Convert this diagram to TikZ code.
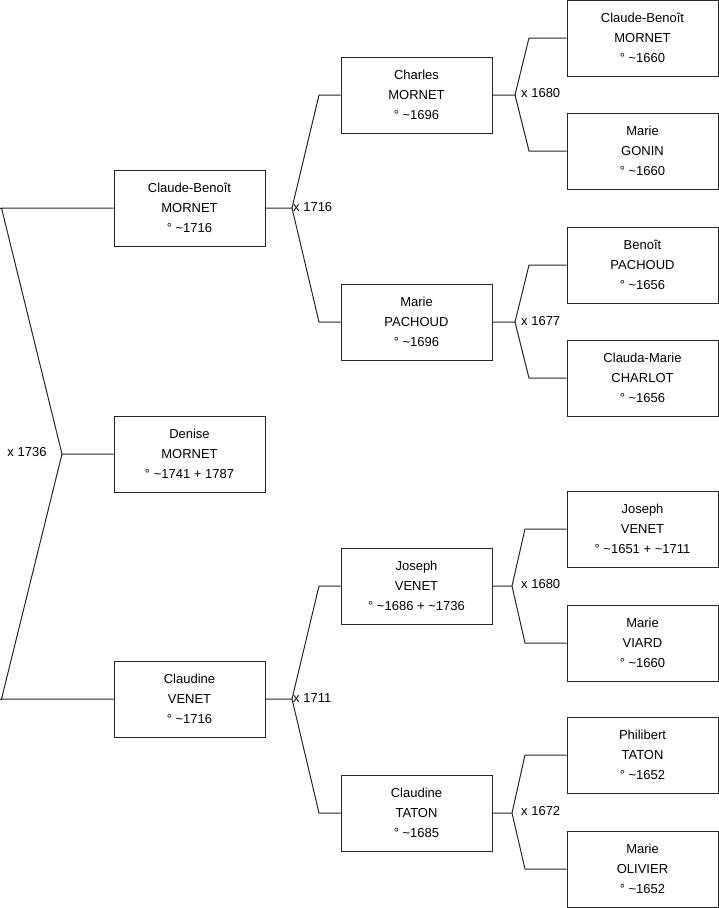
\documentclass[tikz,border=0pt]{standalone}
\usepackage{fontspec}
\setmainfont{Liberation Sans}
\newcommand{\tld}{\textasciitilde}
\begin{document}
\begin{tikzpicture}[x=1pt,y=-1pt,
  person/.style={draw=black!85, line width=1pt, minimum width=151pt, minimum height=76pt,
    align=center, inner sep=0pt, font=\fontsize{13}{20}\selectfont},
  link/.style={draw=black!85, line width=1pt},
  mar/.style={inner sep=0pt, font=\fontsize{13}{16}\selectfont, anchor=west}]
\useasboundingbox (0,0) rectangle (719,908);
% level 1
\node[person] (cb)  at (189.5,208) {Claude-Benoît\\MORNET\\° \tld1716};
\node[person] (den) at (189.5,454) {Denise\\MORNET\\° \tld1741 + 1787};
\node[person] (cl)  at (189.5,699) {Claudine\\VENET\\° \tld1716};
% level 2
\node[person] (ch)  at (416.5,95)  {Charles\\MORNET\\° \tld1696};
\node[person] (mp)  at (416.5,322) {Marie\\PACHOUD\\° \tld1696};
\node[person] (jv)  at (416.5,586) {Joseph\\VENET\\° \tld1686 + \tld1736};
\node[person] (ct)  at (416.5,813) {Claudine\\TATON\\° \tld1685};
% level 3
\node[person] (cbm) at (642.5,38)  {Claude-Benoît\\MORNET\\° \tld1660};
\node[person] (mg)  at (642.5,151) {Marie\\GONIN\\° \tld1660};
\node[person] (bp)  at (642.5,265) {Benoît\\PACHOUD\\° \tld1656};
\node[person] (cmc) at (642.5,378) {Clauda-Marie\\CHARLOT\\° \tld1656};
\node[person] (jv2) at (642.5,529) {Joseph\\VENET\\° \tld1651 + \tld1711};
\node[person] (mv)  at (642.5,643) {Marie\\VIARD\\° \tld1660};
\node[person] (pt)  at (642.5,755) {Philibert\\TATON\\° \tld1652};
\node[person] (mo)  at (642.5,869) {Marie\\OLIVIER\\° \tld1652};
% junctions
\coordinate (j0) at (62,454);   \coordinate (j0t) at (1.5,208); \coordinate (j0b) at (1.5,699);
\coordinate (j1) at (292,208);  \coordinate (j1t) at (319,95);  \coordinate (j1b) at (319,322);
\coordinate (j2) at (292,699);  \coordinate (j2t) at (319,586); \coordinate (j2b) at (319,813);
\coordinate (j3) at (515,95);   \coordinate (j3t) at (529,38);  \coordinate (j3b) at (529,151);
\coordinate (j4) at (515,322);  \coordinate (j4t) at (529,265); \coordinate (j4b) at (529,378);
\coordinate (j5) at (512,586);  \coordinate (j5t) at (525,529); \coordinate (j5b) at (525,643);
\coordinate (j6) at (512,813);  \coordinate (j6t) at (525,755); \coordinate (j6b) at (525,869);
% connectors
\draw[link] (den.west) -- (j0) -- (j0t) -- (cb.west);
\draw[link] (j0t) -- ++(-1.5,0);
\draw[link] (j0) -- (j0b) -- (cl.west);
\draw[link] (j0b) -- ++(-1.5,0);
\draw[link] (cb.east) -- (j1) -- (j1t) -- (ch.west);
\draw[link] (j1) -- (j1b) -- (mp.west);
\draw[link] (cl.east) -- (j2) -- (j2t) -- (jv.west);
\draw[link] (j2) -- (j2b) -- (ct.west);
\draw[link] (ch.east) -- (j3) -- (j3t) -- (cbm.west);
\draw[link] (j3) -- (j3b) -- (mg.west);
\draw[link] (mp.east) -- (j4) -- (j4t) -- (bp.west);
\draw[link] (j4) -- (j4b) -- (cmc.west);
\draw[link] (jv.east) -- (j5) -- (j5t) -- (jv2.west);
\draw[link] (j5) -- (j5b) -- (mv.west);
\draw[link] (ct.east) -- (j6) -- (j6t) -- (pt.west);
\draw[link] (j6) -- (j6b) -- (mo.west);
% marriage labels
\node[mar, anchor=center] (m0) at (27,452) {x 1736};
\node[mar] (m1) at (293,207) {x 1716};
\node[mar] (m2) at (293,698) {x 1711};
\node[mar] (m3) at (521,93)  {x 1680};
\node[mar] (m4) at (521,321) {x 1677};
\node[mar] (m5) at (521,584) {x 1680};
\node[mar] (m6) at (521,811) {x 1672};
\end{tikzpicture}
\end{document}
